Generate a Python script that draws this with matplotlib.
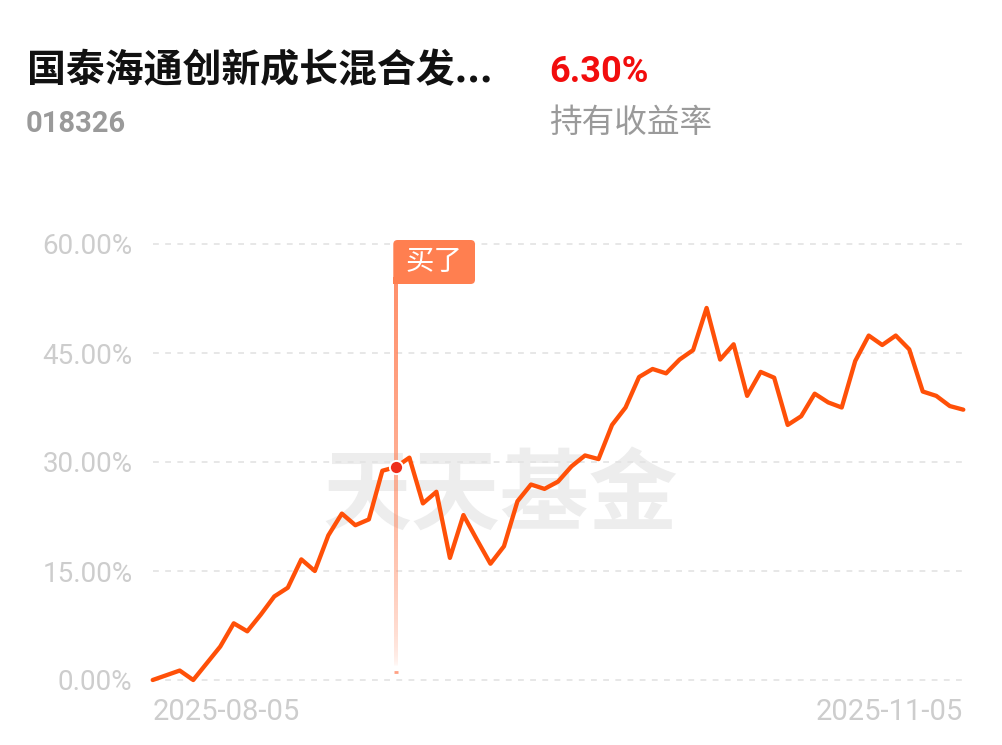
import matplotlib
matplotlib.use("Agg")
import matplotlib.pyplot as plt
import numpy as np
from matplotlib.patches import FancyBboxPatch, Rectangle

plt.rcParams['font.family'] = ['Noto Sans CJK SC', 'DejaVu Sans']

# ---------------- data ----------------
fund_name = "国泰海通创新成长混合发..."
fund_code = "018326"
hold_return = "6.30%"
hold_label = "持有收益率"
buy_label = "买了"
watermark = "天天基金"

returns = [0.0, 0.65, 1.3, 0.0, 2.3, 4.6, 7.8, 6.7, 9.0, 11.5, 12.7, 16.6, 15.0,
           19.9, 22.9, 21.3, 22.1, 28.8, 29.3, 30.6, 24.3, 25.9, 16.8, 22.7,
           19.3, 16.0, 18.4, 24.6, 26.9, 26.3, 27.3, 29.4, 30.9, 30.4, 35.1,
           37.5, 41.7, 42.8, 42.2, 44.1, 45.4, 51.2, 44.1, 46.2, 39.1, 42.4,
           41.6, 35.1, 36.3, 39.4, 38.2, 37.5, 43.9, 47.4, 46.1, 47.4, 45.5,
           39.7, 39.1, 37.7, 37.2]
buy_index = 18
y_ticks = [0, 15, 30, 45, 60]
x_tick_labels = ["2025-08-05", "2025-11-05"]

# ---------------- figure ----------------
W, H = 1003, 745
fig = plt.figure(figsize=(W / 100, H / 100), dpi=100)
fig.patch.set_facecolor("white")

x0_px, x1_px = 152.7, 963.3
y0_px, y60_px = 680.0, 244.0
ax = fig.add_axes([x0_px / W, (H - y0_px) / H, (x1_px - x0_px) / W, (y0_px - y60_px) / H])
ax.set_facecolor("none")
n = len(returns)
x = np.arange(n)
px_x = (x1_px - x0_px) / (n - 1)
px_y = (y0_px - y60_px) / 60.0
for s in ax.spines.values():
    s.set_visible(False)

# grid
for v in y_ticks:
    ax.axhline(v, color="#e3e3e3", lw=1.2, dashes=(3.5, 3.8), zorder=1, clip_on=False)

# watermark
wm_x = (500 - x0_px) / px_x
wm_y = (y0_px - 497) / px_y
ax.text(wm_x, wm_y, watermark, fontsize=64, fontweight="heavy", color="#ededed",
        ha="center", va="center", zorder=0)

# vertical buy line with fade (gradient image)
box_bottom = (y0_px - 284.0) / px_y
y_top, y_bot = box_bottom, 1.8
half_w = 1.6 / px_x
grad = np.linspace(1, 0, 256)  # top -> bottom
alpha = 0.9 * grad ** 0.5
img = np.zeros((256, 1, 4))
img[:, 0, 0] = 1.0
img[:, 0, 1] = 0.52
img[:, 0, 2] = 0.36
img[:, 0, 3] = alpha
ax.imshow(img, extent=(buy_index - half_w, buy_index + half_w, y_bot, y_top),
          aspect="auto", origin="upper", zorder=2, interpolation="bilinear", clip_on=False)
ax.plot([buy_index - 0.17, buy_index + 0.17], [1.15, 1.15], color="#ff8a65",
        lw=2.0, alpha=0.8, zorder=2, solid_capstyle="butt")

# main line
ax.plot(x, returns, color="#ff5008", lw=3.1, zorder=3, solid_joinstyle="round",
        solid_capstyle="round", clip_on=False)
ax.plot([buy_index], [returns[buy_index]], "o", ms=9.5, mfc="#ee2d1a", mec="white",
        mew=1.4, zorder=4, clip_on=False)

# flag box
bx0 = (393.3 - x0_px) / px_x
bx1 = (475.0 - x0_px) / px_x
by0, by1 = box_bottom, (y0_px - 240.0) / px_y
rx = 0.32
asp = px_x / px_y
box = FancyBboxPatch((bx0, by0), bx1 - bx0, by1 - by0,
                     boxstyle=f"round,pad=0,rounding_size={rx}",
                     mutation_aspect=asp, fc="#ff7f50", ec="none", zorder=5, clip_on=False)
ax.add_patch(box)
ax.add_patch(Rectangle((bx0, by0), 0.6, 1.0, fc="#ff7f50", ec="none", zorder=5, clip_on=False))
ax.text((bx0 + bx1) / 2, (by0 + by1) / 2, buy_label, color="white", fontsize=20.5,
        ha="center", va="center", zorder=6)

ax.set_xlim(0, n - 1)
ax.set_ylim(0, 60)

# ticks
ax.set_yticks(y_ticks)
ax.set_yticklabels([f"{v:.2f}%" for v in y_ticks], fontfamily="Roboto",
                   fontsize=20, color="#cdcdcd")
ax.tick_params(axis="y", length=0, pad=14.5)
ax.set_xticks([0, n - 1])
ax.set_xticklabels(x_tick_labels, fontfamily="Roboto", fontsize=21, color="#cdcdcd")
ax.tick_params(axis="x", length=0, pad=13)
xl = ax.get_xticklabels()
xl[0].set_ha("left")
xl[-1].set_ha("right")

# header texts
fig.text(27 / W, 1 - 71 / H, fund_name, fontsize=28, fontweight="bold", color="#111111",
         ha="left", va="center")
fig.text(26 / W, 1 - 124 / H, fund_code, fontfamily="Roboto", fontsize=21, fontweight="bold",
         color="#9a9a9a", ha="left", va="center")
fig.text(549 / W, 1 - 72 / H, hold_return, fontfamily="Roboto", fontsize=26, fontweight="bold",
         color="#f20d0d", ha="left", va="center")
fig.text(549 / W, 1 - 123 / H, hold_label, fontsize=23.5, color="#9a9a9a",
         ha="left", va="center")

fig.savefig("out.png", dpi=100, facecolor="white")
